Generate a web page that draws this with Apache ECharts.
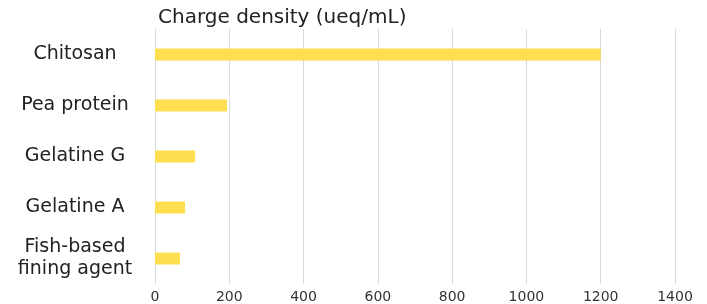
<!DOCTYPE html>
<html><head><meta charset="utf-8">
<script src="https://cdn.jsdelivr.net/npm/echarts@6/dist/echarts.min.js"></script>
<style>html,body{margin:0;padding:0;background:#fff}#c{width:707px;height:304px}</style>
</head><body><div id="c"></div>
<script>
const categories = ["Chitosan", "Pea protein", "Gelatine G", "Gelatine A", "Fish-based\nfining agent"];
const values = [1200, 194, 108, 81, 67];
const axisTitle = "Charge density (ueq/mL)";
const chart = echarts.init(document.getElementById('c'));
const font = '"DejaVu Sans", sans-serif';
chart.setOption({
  animation: false,
  title: { text: axisTitle, left: 153, top: 3, textStyle: { fontFamily: font, fontSize: 20, fontWeight: 'normal', color: '#222' } },
  grid: { left: 155, right: 32, top: 29, bottom: 18, containLabel: false },
  xAxis: {
    type: 'value', min: 0, max: 1400, interval: 200,
    axisLine: { show: false }, axisTick: { show: false },
    splitLine: { lineStyle: { color: '#d9d9d9', width: 1 } },
    axisLabel: { fontFamily: font, fontSize: 14, color: '#333', margin: 6, formatter: v => String(v) }
  },
  yAxis: {
    type: 'category', data: categories, inverse: true,
    axisLine: { show: true, lineStyle: { color: '#d9d9d9' } }, axisTick: { show: false },
    axisLabel: { fontFamily: font, fontSize: 19, color: '#222', align: 'center', margin: 80, lineHeight: 22 }
  },
  series: [{ type: 'bar', data: values, barWidth: 12, itemStyle: { color: '#FFDF4F' } }]
});
</script></body></html>
